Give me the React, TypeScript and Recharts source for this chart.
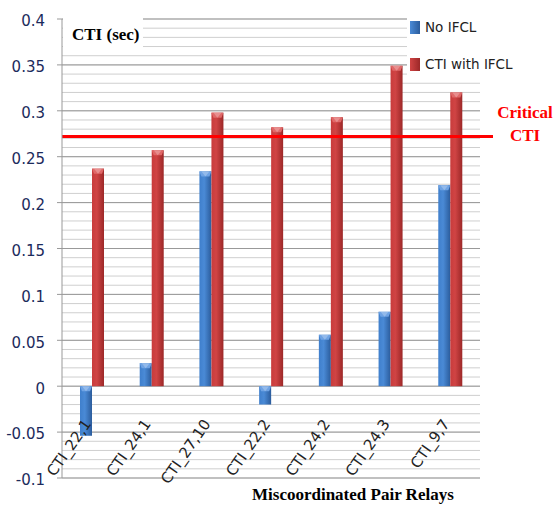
import { BarChart, Bar, XAxis, YAxis, CartesianGrid, ReferenceLine } from 'recharts'

const categories = ['CTI_22,1', 'CTI_24,1', 'CTI_27,10', 'CTI_22,2', 'CTI_24,2', 'CTI_24,3', 'CTI_9,7']
const noIfcl = [-0.054, 0.025, 0.234, -0.02, 0.056, 0.081, 0.219]
const withIfcl = [0.237, 0.257, 0.298, 0.282, 0.293, 0.349, 0.32]
const criticalCti = 0.272
const yTicks = [-0.1, -0.05, 0, 0.05, 0.1, 0.15, 0.2, 0.25, 0.3, 0.35, 0.4]
// minor grid every 0.01
const minorTicks = Array.from({ length: 51 }, (_, i) => Math.round((-0.1 + i * 0.01) * 100) / 100)

const data = categories.map((name, i) => ({ name, noIfcl: noIfcl[i], withIfcl: withIfcl[i] }))

const sans = '"DejaVu Sans", sans-serif'
const serif = '"Liberation Serif", "Times New Roman", serif'

function Column(props: any) {
  const { x, y, width, height, grad, bevel } = props
  if (width == null || height == null) return null
  const top = Math.min(y, y + height)
  const h = Math.abs(height)
  const b = Math.min(5, h)
  return (
    <g>
      <rect x={x} y={top} width={width} height={h} fill={`url(#${grad})`} />
      <polygon
        points={`${x},${top} ${x + width},${top} ${x + width - 2},${top + b} ${x + 2},${top + b}`}
        fill={bevel}
      />
      <polygon
        points={`${x + 2},${top} ${x + width - 2},${top} ${x + width / 2},${top + b}`}
        fill="#ffffff"
        fillOpacity={0.25}
      />
    </g>
  )
}

function XTick(props: any) {
  const { x, payload } = props
  const ax = x
  const ay = 424
  return (
    <text
      x={ax}
      y={ay}
      textAnchor="end"
      transform={`rotate(-55, ${ax}, ${ay})`}
      fontFamily={sans}
      fontSize={15}
      fill="#222"
    >
      {payload.value}
    </text>
  )
}

function Swatch({ grad }: { grad: string }) {
  return (
    <div
      style={{
        position: 'absolute',
        left: 0,
        top: 0,
        width: 10,
        height: 13,
        background: grad,
      }}
    />
  )
}

export default function App() {
  return (
    <div style={{ position: 'absolute', left: 0, top: 0, width: 555, height: 506, background: '#fff' }}>
      <BarChart
        width={555}
        height={506}
        data={data}
        margin={{ top: 19, right: 75, left: 0, bottom: 0 }}
        barGap={0}
        barSize={12}
      >
        <defs>
          <linearGradient id="blueGrad" x1="0" y1="0" x2="1" y2="0">
            <stop offset="0%" stopColor="#3f7fcc" />
            <stop offset="40%" stopColor="#4a8ad6" />
            <stop offset="100%" stopColor="#2b5c9c" />
          </linearGradient>
          <linearGradient id="redGrad" x1="0" y1="0" x2="1" y2="0">
            <stop offset="0%" stopColor="#c83c3c" />
            <stop offset="40%" stopColor="#d04444" />
            <stop offset="100%" stopColor="#9c2828" />
          </linearGradient>
        </defs>
        <CartesianGrid horizontalValues={minorTicks} vertical={false} stroke="#cfcfcf" strokeWidth={1} />
        <CartesianGrid vertical={false} stroke="#999999" strokeWidth={1} />
        <XAxis
          dataKey="name"
          axisLine={false}
          tickLine={false}
          height={28}
          interval={0}
          tick={<XTick />}
        />
        <YAxis
          type="number"
          domain={[-0.1, 0.4]}
          ticks={yTicks}
          interval={0}
          width={62}
          axisLine={{ stroke: '#999999' }}
          tickLine={{ stroke: '#999999' }}
          tickSize={5}
          tickMargin={12}
          tick={{ fontFamily: sans, fontSize: 15, fill: '#1c2b5c', dy: 2 }}
        />
        <Bar
          dataKey="noIfcl"
          isAnimationActive={false}
          shape={(p: any) => <Column {...p} grad="blueGrad" bevel="#6fa3e4" />}
        />
        <Bar
          dataKey="withIfcl"
          isAnimationActive={false}
          shape={(p: any) => <Column {...p} grad="redGrad" bevel="#e06868" />}
        />
        <ReferenceLine
          y={criticalCti}
          stroke="#ff0000"
          strokeWidth={3}
          shape={(p: any) => (
            <line x1={p.x1} y1={p.y1} x2={p.x2 + 13} y2={p.y2} stroke="#ff0000" strokeWidth={3} />
          )}
        />
      </BarChart>

      {/* y-axis title box */}
      <div
        style={{
          position: 'absolute',
          left: 63,
          top: 14,
          width: 80,
          height: 35,
          background: '#fff',
          fontFamily: serif,
          fontWeight: 'bold',
          fontSize: 17,
          color: '#000',
          lineHeight: '20px',
        }}
      >
        <div style={{ position: 'absolute', left: 9, top: 11, whiteSpace: 'nowrap' }}>CTI (sec)</div>
      </div>

      {/* legend */}
      <div
        style={{
          position: 'absolute',
          left: 407,
          top: 12,
          width: 148,
          height: 66,
          background: '#fff',
          fontFamily: sans,
          fontSize: 13.5,
          color: '#222',
        }}
      >
        <div style={{ position: 'absolute', left: 3, top: 9, width: 10, height: 13 }}>
          <Swatch grad="linear-gradient(90deg, #4a8ad6, #2b5c9c)" />
        </div>
        <div style={{ position: 'absolute', left: 18, top: 7, whiteSpace: 'nowrap' }}>No IFCL</div>
        <div style={{ position: 'absolute', left: 3, top: 46, width: 10, height: 13 }}>
          <Swatch grad="linear-gradient(90deg, #d04444, #9c2828)" />
        </div>
        <div style={{ position: 'absolute', left: 18, top: 44, whiteSpace: 'nowrap' }}>CTI with IFCL</div>
      </div>

      {/* critical CTI label */}
      <div
        style={{
          position: 'absolute',
          left: 495,
          top: 101,
          width: 60,
          textAlign: 'center',
          fontFamily: serif,
          fontWeight: 'bold',
          fontSize: 17,
          lineHeight: '23px',
          color: '#ff0000',
        }}
      >
        Critical
        <br />
        CTI
      </div>

      {/* x-axis title */}
      <div
        style={{
          position: 'absolute',
          left: 252,
          top: 485,
          whiteSpace: 'nowrap',
          fontFamily: serif,
          fontWeight: 'bold',
          fontSize: 17,
          color: '#000',
        }}
      >
        Miscoordinated Pair Relays
      </div>
    </div>
  )
}
